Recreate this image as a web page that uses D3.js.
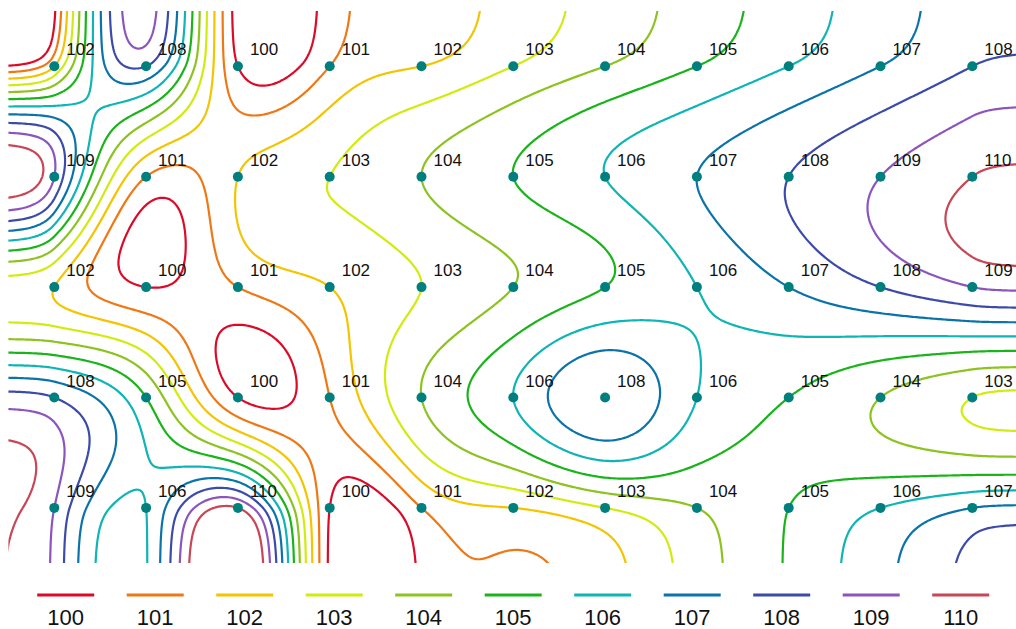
<!DOCTYPE html>
<html>
<head>
<meta charset="utf-8">
<script src="https://cdn.jsdelivr.net/npm/d3@7"></script>
<style>
html,body{margin:0;padding:0;background:#fff;}
svg{display:block;font-family:"Liberation Sans",Arial,sans-serif;}
</style>
</head>
<body>
<svg id="chart" width="1016" height="629"></svg>
<script>
// ---- data ----
const columns = [0,1,2,3,4,5,6,7,8,9,10];
const rows = [0,1,2,3,4];
const row0 = [102,108,100,101,102,103,104,105,106,107,108];
const row1 = [109,101,102,103,104,105,106,107,108,109,110];
const row2 = [102,100,101,102,103,104,105,106,107,108,109];
const row3 = [108,105,100,101,104,106,108,106,105,104,103];
const row4 = [109,106,110,100,101,102,103,104,105,106,107];
const levels = [100,101,102,103,104,105,106,107,108,109,110];
const levelColors = ["#dc0a28","#f07814","#f5c400","#d2eb0f","#8cc31e","#19b419","#0fb4b4","#0a73aa","#3c4baa","#8c55be","#c84655"];
const grid = [row0,row1,row2,row3,row4];

// ---- layout ----
const svg = d3.select("#chart");
const plot = {left: 8.4, right: 1018.2, top: 11.1, bottom: 563.1};
const x = d3.scaleLinear().domain([-0.5, 10.5]).range([plot.left, plot.right]);
const y = d3.scaleLinear().domain([-0.5, 4.5]).range([plot.top, plot.bottom]);

// natural cubic spline second derivatives (unit spacing)
function splineM(v){
  const n = v.length, M = new Array(n).fill(0);
  if (n < 3) return M;
  const a = [], b = [], c = [], d = [];
  for (let i = 1; i < n-1; i++){ a.push(1); b.push(4); c.push(1); d.push(6*(v[i+1]-2*v[i]+v[i-1])); }
  const m = b.length;
  for (let i = 1; i < m; i++){ const w = a[i]/b[i-1]; b[i] -= w*c[i-1]; d[i] -= w*d[i-1]; }
  const s = new Array(m);
  s[m-1] = d[m-1]/b[m-1];
  for (let i = m-2; i >= 0; i--) s[i] = (d[i]-c[i]*s[i+1])/b[i];
  for (let i = 0; i < m; i++) M[i+1] = s[i];
  return M;
}
const K = 5; // slope damping beyond the outer points
function splineEval(v, M, t){
  const n = v.length;
  if (t < 0){
    const s = -M[0]/3 - M[1]/6 + (v[1]-v[0]);
    return v[0] - s*(1-Math.exp(K*t))/K;
  }
  if (t > n-1){
    const s = M[n-2]/6 + M[n-1]/3 + (v[n-1]-v[n-2]);
    return v[n-1] + s*(1-Math.exp(-K*(t-(n-1))))/K;
  }
  const k = Math.max(0, Math.min(n-2, Math.floor(t)));
  const u = t - k;
  return M[k]*Math.pow(1-u,3)/6 + M[k+1]*Math.pow(u,3)/6 + (v[k]-M[k]/6)*(1-u) + (v[k+1]-M[k+1]/6)*u;
}

// sample grid (extends a little beyond the plot, then clipped)
const step = 2, pad = 8;
const px0 = plot.left - pad, py0 = plot.top - pad;
const nx = Math.ceil((plot.right - plot.left + 2*pad)/step) + 1;
const ny = Math.ceil((plot.bottom - plot.top + 2*pad)/step) + 1;
const rowM = grid.map(r => splineM(r));
const values = new Float64Array(nx*ny);
for (let i = 0; i < nx; i++){
  const tx = x.invert(px0 + i*step);
  const col = grid.map((r, j) => splineEval(r, rowM[j], tx));
  const cM = splineM(col);
  for (let j = 0; j < ny; j++){
    const ty = y.invert(py0 + j*step);
    values[j*nx + i] = splineEval(col, cM, ty);
  }
}
const contours = d3.contours().size([nx, ny]).thresholds(levels)(values);

svg.append("clipPath").attr("id","clip").append("rect")
  .attr("x", plot.left).attr("y", plot.top)
  .attr("width", plot.right - plot.left).attr("height", plot.bottom - plot.top);

const proj = d3.geoTransform({
  point: function(cx, cy){ this.stream.point(px0 + (cx-0.5)*step, py0 + (cy-0.5)*step); }
});
const path = d3.geoPath(proj);
const color = d3.scaleOrdinal().domain(levels).range(levelColors);

svg.append("g").attr("clip-path","url(#clip)")
  .selectAll("path").data(contours).join("path")
  .attr("d", path)
  .attr("fill","none")
  .attr("stroke", d => color(d.value))
  .attr("stroke-width", 2.2)
  .attr("stroke-linejoin","round");

// points and labels
const pts = [];
rows.forEach(r => columns.forEach(c => pts.push({c, r, v: grid[r][c]})));
const gp = svg.append("g");
gp.selectAll("circle").data(pts).join("circle")
  .attr("cx", d => x(d.c)).attr("cy", d => y(d.r)).attr("r", 5)
  .attr("fill", "#007f7f");
gp.selectAll("text").data(pts).join("text")
  .attr("x", d => x(d.c) + 12).attr("y", d => y(d.r) - 11)
  .attr("font-size", 17).attr("fill", "#111")
  .text(d => d.v);

// legend
const lx = d3.scaleLinear().domain([0, 10]).range([65.7, 960.7]);
const lg = svg.append("g").selectAll("g").data(levels).join("g")
  .attr("transform", (d,i) => `translate(${lx(i)},0)`);
lg.append("line").attr("x1", -28.5).attr("x2", 28.5).attr("y1", 595).attr("y2", 595)
  .attr("stroke", d => color(d)).attr("stroke-width", 3);
lg.append("text").attr("y", 625).attr("text-anchor","middle")
  .attr("font-size", 22).attr("fill","#111").text(d => d);
</script>
</body>
</html>
